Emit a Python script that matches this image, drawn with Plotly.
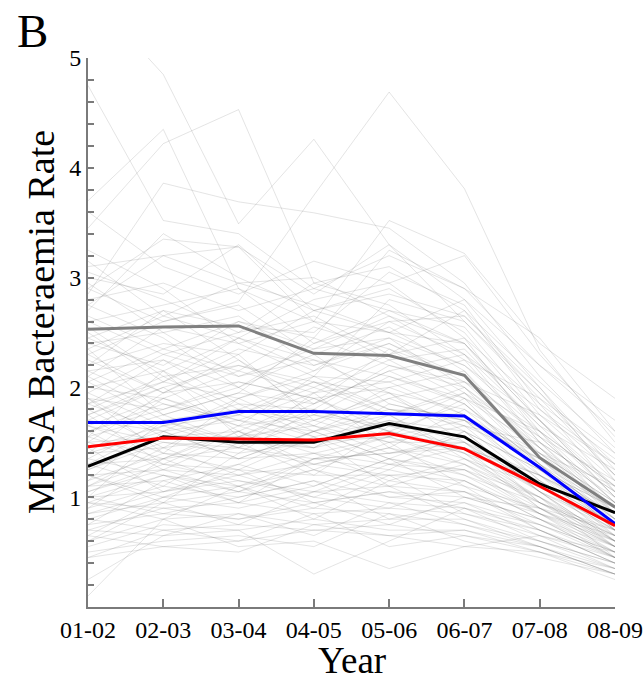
import plotly.graph_objects as go

# Financial years on the x axis
years = ["01-02", "02-03", "03-04", "04-05", "05-06", "06-07", "07-08", "08-09"]

# MRSA bacteraemia rate for each individual trust
trust_rates = [
    [5.60, 4.85, 3.49, 4.26, 3.30, 2.60, 1.90, 1.20],
    [4.75, 3.52, 3.40, 2.90, 2.70, 2.40, 1.70, 1.10],
    [3.70, 4.35, 2.90, 2.60, 2.50, 2.20, 1.60, 0.95],
    [3.45, 4.22, 4.53, 2.95, 3.10, 2.70, 1.80, 1.30],
    [2.85, 3.86, 3.69, 3.59, 3.45, 2.95, 2.10, 1.40],
    [2.30, 2.60, 2.78, 3.75, 4.69, 3.81, 2.34, 1.50],
    [2.90, 3.35, 3.28, 2.60, 3.52, 3.22, 2.40, 1.90],
    [3.10, 3.20, 3.28, 2.85, 3.30, 2.80, 2.00, 1.25],
    [2.80, 2.95, 2.70, 2.90, 3.20, 2.90, 2.20, 1.60],
    [2.70, 3.40, 3.00, 2.70, 2.90, 2.50, 1.70, 1.00],
    [2.60, 2.75, 2.90, 2.40, 2.60, 2.65, 2.00, 1.15],
    [3.05, 2.80, 2.50, 2.95, 2.75, 2.30, 1.50, 0.90],
    [2.45, 2.70, 2.55, 2.50, 3.05, 2.75, 1.85, 1.05],
    [2.95, 2.50, 2.65, 2.20, 2.40, 2.10, 1.40, 0.85],
    [2.20, 2.40, 2.30, 2.70, 2.50, 2.40, 1.60, 1.10],
    [2.10, 2.55, 2.40, 2.10, 2.80, 2.60, 1.95, 1.30],
    [2.40, 2.20, 2.60, 2.45, 2.20, 2.00, 1.30, 0.70],
    [1.95, 2.30, 2.10, 2.35, 2.45, 2.20, 1.70, 1.00],
    [2.55, 2.10, 2.20, 2.00, 2.30, 2.45, 1.55, 0.95],
    [2.00, 2.15, 2.45, 2.25, 2.10, 1.90, 1.45, 0.80],
    [1.85, 2.05, 1.90, 2.15, 2.60, 2.30, 1.80, 1.20],
    [2.25, 1.95, 2.05, 1.90, 2.00, 2.15, 1.35, 0.75],
    [1.75, 2.00, 2.20, 2.05, 1.95, 1.80, 1.25, 0.90],
    [2.15, 2.25, 1.85, 1.80, 2.20, 2.05, 1.60, 0.85],
    [1.90, 1.80, 2.00, 2.30, 1.85, 1.70, 1.20, 0.65],
    [1.65, 1.90, 2.15, 1.95, 2.05, 2.25, 1.50, 1.05],
    [2.05, 1.70, 1.80, 1.70, 1.90, 1.65, 1.10, 0.70],
    [1.80, 2.10, 1.75, 2.00, 1.75, 1.95, 1.40, 0.95],
    [1.55, 1.75, 1.95, 1.85, 2.15, 1.85, 1.30, 0.80],
    [1.70, 1.60, 1.70, 1.60, 1.80, 1.75, 1.15, 0.60],
    [1.60, 1.85, 1.65, 1.75, 1.65, 1.55, 1.05, 0.75],
    [1.45, 1.65, 1.85, 1.55, 1.70, 1.60, 1.25, 0.85],
    [1.50, 1.55, 1.60, 1.90, 1.60, 1.40, 1.00, 0.55],
    [1.35, 1.70, 1.50, 1.45, 1.85, 1.70, 1.35, 0.90],
    [1.40, 1.45, 1.55, 1.65, 1.50, 1.50, 0.95, 0.65],
    [1.25, 1.50, 1.40, 1.50, 1.55, 1.35, 1.10, 0.70],
    [1.30, 1.35, 1.45, 1.35, 1.40, 1.45, 0.90, 0.50],
    [1.15, 1.40, 1.35, 1.40, 1.30, 1.25, 1.00, 0.60],
    [1.20, 1.25, 1.20, 1.30, 1.45, 1.30, 0.85, 0.55],
    [1.05, 1.30, 1.25, 1.20, 1.20, 1.15, 0.80, 0.45],
    [1.10, 1.15, 1.30, 1.10, 1.35, 1.20, 0.95, 0.65],
    [0.95, 1.20, 1.10, 1.25, 1.10, 1.05, 0.75, 0.50],
    [1.00, 1.05, 1.15, 1.00, 1.25, 1.10, 0.70, 0.40],
    [0.90, 1.10, 1.00, 1.15, 1.00, 0.95, 0.65, 0.45],
    [0.85, 0.95, 1.05, 0.95, 1.05, 1.00, 0.80, 0.55],
    [0.80, 1.00, 0.90, 1.05, 0.95, 0.90, 0.60, 0.35],
    [0.70, 0.90, 0.95, 0.85, 0.90, 0.85, 0.70, 0.40],
    [0.75, 0.85, 0.80, 0.90, 0.85, 0.75, 0.55, 0.30],
    [0.60, 0.80, 0.85, 0.75, 0.80, 0.80, 0.60, 0.40],
    [0.55, 0.75, 0.70, 0.80, 0.70, 0.70, 0.50, 0.35],
    [0.45, 0.70, 0.75, 0.70, 0.75, 0.65, 0.55, 0.30],
    [0.25, 0.65, 0.70, 0.30, 0.60, 0.90, 0.75, 0.45],
    [0.10, 0.80, 0.55, 0.60, 0.35, 0.55, 0.65, 0.50],
    [0.65, 0.55, 0.60, 0.85, 0.55, 0.65, 0.50, 0.25],
    [1.90, 1.40, 1.25, 1.55, 1.10, 1.30, 0.95, 0.60],
    [2.35, 1.75, 1.50, 1.75, 1.55, 1.90, 1.20, 0.75],
    [1.50, 1.95, 2.30, 1.70, 1.95, 1.50, 1.05, 0.70],
    [1.00, 1.60, 1.35, 1.60, 1.75, 2.00, 1.45, 1.00],
    [1.75, 1.30, 1.60, 1.30, 1.45, 1.20, 0.85, 0.50],
    [2.65, 2.35, 2.15, 2.55, 2.35, 1.95, 1.30, 0.80],
    [1.20, 0.95, 1.40, 1.80, 1.60, 1.40, 1.15, 0.75],
    [1.60, 1.25, 1.05, 1.35, 1.25, 1.60, 1.25, 0.90],
    [0.90, 1.35, 1.60, 1.25, 1.50, 1.10, 0.90, 0.60],
    [2.15, 1.85, 1.70, 1.50, 1.70, 1.50, 1.10, 0.65],
    [1.40, 1.60, 1.90, 2.10, 1.80, 1.65, 1.35, 0.85],
    [0.75, 1.15, 0.95, 1.10, 1.35, 1.25, 0.90, 0.55],
    [1.85, 2.25, 2.00, 1.65, 1.40, 1.55, 0.95, 0.70],
    [2.50, 2.05, 2.35, 2.20, 2.45, 2.00, 1.50, 0.85],
    [1.10, 1.45, 1.20, 1.40, 1.15, 1.35, 1.00, 0.45],
    [0.95, 0.80, 1.10, 0.90, 1.20, 0.85, 0.65, 0.35],
    [1.65, 1.50, 1.45, 1.95, 1.45, 1.80, 1.40, 1.10],
    [2.75, 2.45, 2.00, 2.40, 2.70, 2.55, 1.75, 1.15],
    [1.30, 1.10, 1.50, 1.20, 1.65, 1.45, 1.20, 0.80],
    [3.25, 2.90, 2.40, 2.60, 2.25, 2.35, 1.65, 1.00],
    [1.55, 2.15, 1.55, 1.85, 2.35, 2.10, 1.55, 0.95],
    [0.50, 0.60, 0.65, 0.55, 0.85, 0.60, 0.45, 0.30],
    [1.95, 1.65, 1.75, 2.05, 1.75, 1.40, 0.90, 0.55],
    [2.20, 2.70, 2.25, 1.85, 2.15, 2.30, 1.65, 1.25],
    [1.45, 1.05, 1.30, 1.60, 1.35, 1.00, 0.80, 0.50],
    [1.05, 1.25, 1.55, 1.45, 1.60, 1.85, 1.30, 0.70],
    [2.90, 2.60, 2.75, 2.30, 2.55, 2.15, 1.45, 0.85],
    [1.70, 2.00, 1.60, 1.40, 1.55, 1.30, 1.00, 0.65],
    [0.85, 1.05, 1.20, 1.00, 0.90, 1.15, 0.85, 0.60],
    [1.25, 1.55, 1.75, 1.55, 1.30, 1.45, 1.05, 0.55],
    [2.00, 1.90, 1.65, 2.10, 2.05, 1.75, 1.30, 0.90],
    [1.35, 1.20, 1.05, 1.25, 1.00, 1.05, 0.70, 0.45],
    [3.60, 3.10, 2.85, 3.15, 2.95, 2.45, 1.85, 1.35],
    [0.70, 0.65, 0.85, 0.65, 0.95, 0.75, 0.60, 0.40],
    [2.40, 2.50, 2.10, 2.25, 1.95, 1.60, 1.05, 0.60],
    [1.80, 1.45, 1.80, 1.65, 2.00, 1.75, 1.35, 0.80],
    [1.15, 1.70, 1.45, 1.70, 1.50, 1.65, 1.50, 1.05],
    [2.60, 2.30, 2.50, 2.65, 2.30, 2.70, 2.05, 1.45],
    [1.00, 0.85, 1.00, 1.15, 0.80, 0.95, 0.75, 0.50],
    [1.60, 1.80, 2.05, 1.90, 1.65, 1.95, 1.55, 1.15],
    [2.05, 2.35, 2.60, 2.35, 2.65, 2.25, 1.90, 1.40],
    [0.60, 0.95, 0.75, 1.05, 1.10, 0.80, 0.55, 0.30],
    [1.50, 1.30, 1.15, 1.05, 1.30, 1.15, 0.80, 0.45],
    [3.15, 2.65, 2.95, 2.75, 2.50, 2.80, 2.20, 1.70],
    [1.40, 1.90, 1.70, 1.95, 2.25, 1.90, 1.60, 1.10],
    [0.80, 0.70, 0.60, 0.70, 0.65, 0.70, 0.55, 0.35],
    [2.30, 1.95, 2.25, 1.75, 2.10, 1.85, 1.25, 0.70],
    [1.85, 1.60, 1.35, 1.60, 1.90, 2.05, 1.75, 1.30],
    [2.75, 3.20, 2.95, 3.00, 2.65, 2.40, 1.70, 1.05],
    [1.00, 1.20, 0.95, 1.35, 1.40, 1.50, 1.20, 0.85],
    [1.20, 1.00, 1.25, 0.95, 1.05, 0.90, 0.70, 0.40],
    [2.10, 1.75, 1.95, 2.45, 3.25, 2.90, 2.45, 1.60],
    [1.65, 1.40, 1.90, 1.60, 1.35, 1.60, 1.05, 0.60],
    [0.45, 0.55, 0.50, 0.75, 0.65, 0.55, 0.50, 0.30],
    [3.00, 2.85, 3.30, 2.70, 2.85, 2.65, 1.95, 1.20],
    [1.30, 1.65, 1.45, 1.30, 1.20, 1.25, 0.85, 0.65],
    [1.75, 2.05, 2.45, 2.15, 2.40, 2.05, 1.45, 0.90],
    [0.95, 0.90, 0.80, 0.95, 0.75, 1.00, 0.90, 0.70],
    [2.45, 2.15, 1.80, 2.05, 1.80, 1.70, 1.15, 0.75],
    [1.55, 1.35, 1.65, 1.45, 1.75, 1.35, 0.95, 0.55],
    [0.65, 1.00, 1.10, 0.80, 1.15, 1.05, 0.85, 0.45],
    [2.35, 2.65, 2.45, 2.80, 2.95, 3.20, 2.30, 1.55],
    [1.10, 1.35, 1.10, 1.35, 1.55, 1.70, 1.40, 0.95],
    [1.90, 1.55, 1.55, 1.80, 1.60, 1.45, 1.20, 0.85],
]

# Summary series drawn as bold lines
gray_series = [2.53, 2.55, 2.56, 2.31, 2.29, 2.11, 1.36, 0.91]
black_series = [1.28, 1.55, 1.50, 1.50, 1.67, 1.55, 1.12, 0.86]
blue_series = [1.68, 1.68, 1.78, 1.78, 1.76, 1.74, 1.27, 0.76]
red_series = [1.46, 1.54, 1.53, 1.52, 1.58, 1.44, 1.10, 0.74]

y_tick_values = [1, 2, 3, 4, 5]

fig = go.Figure()

for rates in trust_rates:
    fig.add_trace(go.Scatter(
        x=years, y=rates, mode="lines",
        line=dict(color="rgba(100,100,100,0.2)", width=0.9),
        hoverinfo="skip", showlegend=False,
    ))

for series, colour in [(gray_series, "#808080"), (black_series, "#000000"),
                       (blue_series, "#0000ff"), (red_series, "#ff0000")]:
    fig.add_trace(go.Scatter(
        x=years, y=series, mode="lines",
        line=dict(color=colour, width=3),
        showlegend=False,
    ))

serif = "Liberation Serif"
axis_grey = "#7a7a7a"

fig.update_layout(
    width=644, height=681,
    margin=dict(l=88, r=29, t=58, b=74, autoexpand=False),
    paper_bgcolor="white", plot_bgcolor="white",
    font=dict(family=serif, color="black"),
    xaxis=dict(
        type="category", range=[0, 7], automargin=False,
        showline=True, linecolor=axis_grey, linewidth=2,
        ticks="inside", ticklen=8, tickcolor=axis_grey, tickwidth=1.5,
        showgrid=False, zeroline=False,
        tickfont=dict(family=serif, size=24, color="black"),
    ),
    yaxis=dict(
        range=[0, 5], tickvals=y_tick_values, automargin=False,
        showline=True, linecolor=axis_grey, linewidth=2,
        ticks="inside", ticklen=6, tickcolor=axis_grey, tickwidth=1.5,
        minor=dict(dtick=0.2, tick0=0, ticks="inside", ticklen=6,
                   tickcolor=axis_grey, tickwidth=1.5),
        showgrid=False, zeroline=False,
        tickfont=dict(family=serif, size=24, color="black"),
    ),
    annotations=[
        dict(text="B", xref="paper", yref="paper",
             x=(15 - 88) / 527, y=(607 - 3) / 549,
             xanchor="left", yanchor="top", showarrow=False,
             font=dict(family=serif, size=47, color="black")),
        dict(text="MRSA Bacteraemia Rate", xref="paper", yref="paper",
             x=(41 - 88) / 527, y=(607 - 322) / 549, textangle=-90,
             xanchor="center", yanchor="middle", showarrow=False,
             font=dict(family=serif, size=38, color="black")),
        dict(text="Year", xref="paper", yref="paper",
             x=(352 - 88) / 527, y=(607 - 660) / 549,
             xanchor="center", yanchor="middle", showarrow=False,
             font=dict(family=serif, size=37, color="black")),
    ],
)

fig.write_html("out.html")
